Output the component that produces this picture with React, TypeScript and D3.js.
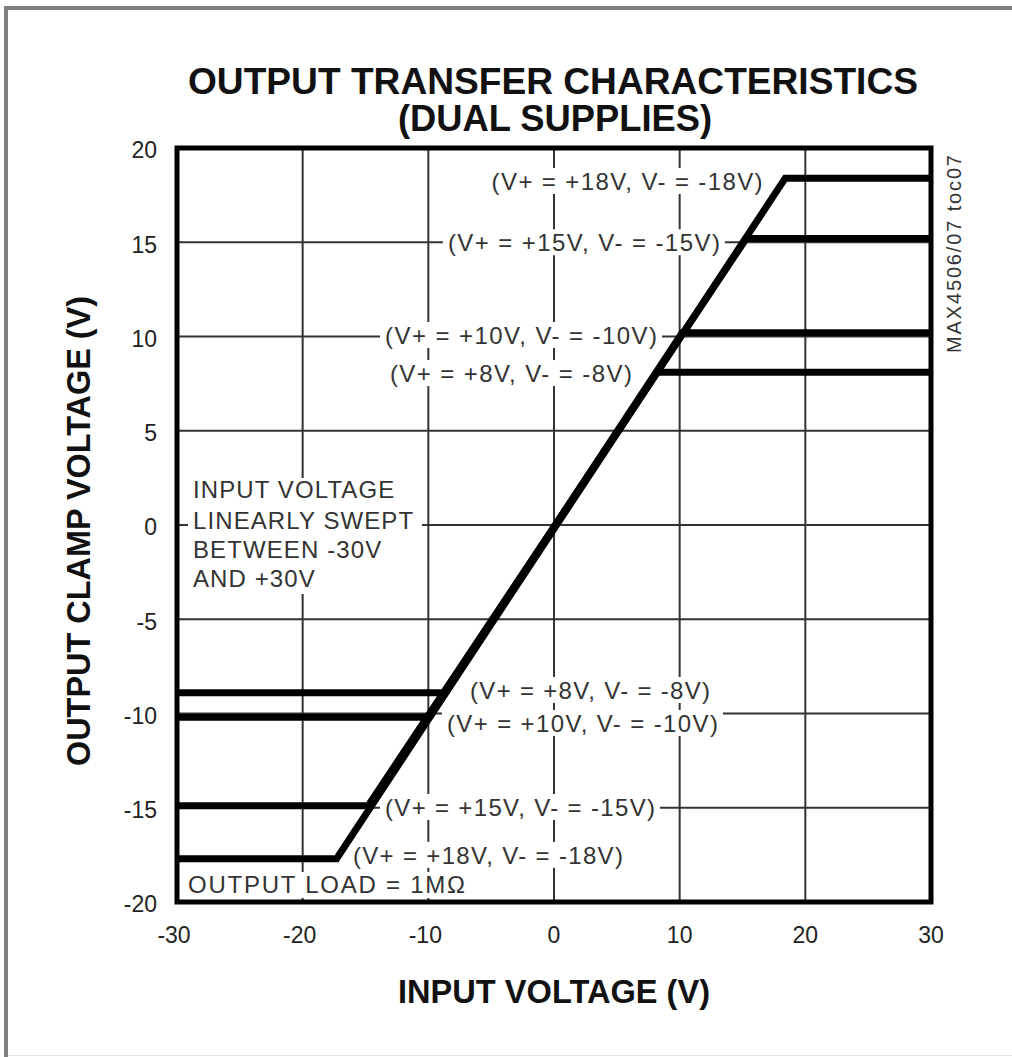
import React from "react";
import * as d3 from "d3";

// ---- data ----
const supplies = [18, 15, 10, 8];
const upperClamp = [18.4, 15.2, 10.2, 8.1];
const upperKneeX = [18.4, 15.3, 10.2, 8.2];
const lowerClamp = [-17.7, -14.9, -10.2, -8.9];
const lowerKneeX = [-17.3, -14.8, -10.0, -8.7];

const xTicks = [-30, -20, -10, 0, 10, 20, 30];
const yTicks = [20, 15, 10, 5, 0, -5, -10, -15, -20];

const supplyText = supplies.map((v) => `(V+ = +${v}V, V- = -${v}V)`);
// upper labels: right end (data x), centre (data y)
const upperLabelX = [16.6, 13.2, 8.2, 6.2];
const upperLabelY = [18.25, 15.0, 10.08, 8.06];
const upperLabelW = [271, 272, 272, 242];
// lower labels: left start (data x), centre (data y)
const lowerLabelX = [-16.0, -13.45, -8.52, -6.68];
const lowerLabelY = [-17.5, -14.96, -10.5, -8.75];
const lowerLabelW = [270, 270, 271, 240];

const noteLines = ["INPUT VOLTAGE", "LINEARLY SWEPT", "BETWEEN -30V", "AND +30V"];
const loadText = "OUTPUT LOAD = 1M\u03A9";

const W = 1012;
const H = 1057;
const X0 = 177, X1 = 931, Y0 = 148, Y1 = 902;
const FONT = "'Liberation Sans', Arial, Helvetica, sans-serif";

export default function App() {
  const x = d3.scaleLinear().domain([-30, 30]).range([X0, X1]);
  const y = d3.scaleLinear().domain([-20, 20]).range([Y1, Y0]);

  const line = d3
    .line<[number, number]>()
    .x((d) => x(d[0]))
    .y((d) => y(d[1]));

  const series = supplies.map((_, i) => [
    [-30, lowerClamp[i]],
    [lowerKneeX[i], lowerClamp[i]],
    [upperKneeX[i], upperClamp[i]],
    [30, upperClamp[i]],
  ] as [number, number][]);

  const labels = [
    ...supplies.map((_, i) => ({
      text: supplyText[i],
      x0: x(upperLabelX[i]) - upperLabelW[i],
      w: upperLabelW[i],
      cy: y(upperLabelY[i]),
    })),
    ...supplies.map((_, i) => ({
      text: supplyText[i],
      x0: x(lowerLabelX[i]),
      w: lowerLabelW[i],
      cy: y(lowerLabelY[i]),
    })),
  ];

  const noteBase = [498, 529, 558, 587];

  return (
    <svg
      width={W}
      height={H}
      style={{ position: "absolute", left: 0, top: 0, background: "#fff" }}
      fontFamily={FONT}
    >
      <rect x={0} y={0} width={W} height={H} fill="#fff" />
      {/* page frame */}
      <rect x={4} y={6} width={W - 4} height={4} fill="#808080" />
      <rect x={4} y={6} width={4} height={H - 6} fill="#808080" />
      <line x1={8} x2={W} y1={1055.5} y2={1055.5} stroke="#e6e6e6" strokeWidth={1} />

      {/* title */}
      <text x={553} y={94} textAnchor="middle" fontSize={37} fontWeight="bold" fill="#111"
        textLength={730} lengthAdjust="spacingAndGlyphs">
        OUTPUT TRANSFER CHARACTERISTICS
      </text>
      <text x={555} y={131} textAnchor="middle" fontSize={37} fontWeight="bold" fill="#111"
        textLength={314} lengthAdjust="spacingAndGlyphs">
        (DUAL SUPPLIES)
      </text>

      {/* grid */}
      {xTicks.slice(1, -1).map((t) => (
        <line key={"gx" + t} x1={x(t)} x2={x(t)} y1={Y0} y2={Y1} stroke="#333" strokeWidth={2} />
      ))}
      {yTicks.slice(1, -1).map((t) => (
        <line key={"gy" + t} x1={X0} x2={X1} y1={y(t)} y2={y(t)} stroke="#333" strokeWidth={2} />
      ))}

      {/* label backgrounds */}
      {labels.map((l, i) => (
        <rect key={"lb" + i} x={l.x0 - 5} y={l.cy - 13} width={l.w + 10} height={26} fill="#fff" />
      ))}
      <rect x={188} y={478} width={234} height={116} fill="#fff" />
      <rect x={184} y={872} width={286} height={26} fill="#fff" />

      {/* labels */}
      {labels.map((l, i) => (
        <text key={"lt" + i} x={l.x0} y={l.cy} dy="0.36em" fontSize={24} fill="#333"
          textLength={l.w} lengthAdjust="spacing">
          {l.text}
        </text>
      ))}
      {noteLines.map((s, i) => (
        <text key={"n" + i} x={193} y={noteBase[i]} fontSize={24} fill="#333" letterSpacing={1.1}>
          {s}
        </text>
      ))}
      <text x={188} y={893} fontSize={24} fill="#333" textLength={277} lengthAdjust="spacing">
        {loadText}
      </text>

      {/* data */}
      {series.map((s, i) => (
        <path key={"s" + i} d={line(s) || ""} fill="none" stroke="#000" strokeWidth={7}
          strokeLinejoin="miter" strokeLinecap="butt" />
      ))}

      {/* plot frame */}
      <rect x={X0} y={Y0} width={X1 - X0} height={Y1 - Y0} fill="none" stroke="#000" strokeWidth={5} />

      {/* tick labels */}
      {xTicks.map((t) => (
        <text key={"tx" + t} x={x(t) - (t < 0 ? 3 : 0)} y={943} textAnchor="middle" fontSize={23} fill="#222">
          {t}
        </text>
      ))}
      {yTicks.map((t) => (
        <text key={"ty" + t} x={157} y={y(t) + 2} dy="0.36em" textAnchor="end" fontSize={23} fill="#222">
          {t}
        </text>
      ))}

      {/* axis titles */}
      <text x={554} y={1003} textAnchor="middle" fontSize={33} fontWeight="bold" fill="#111"
        textLength={312} lengthAdjust="spacingAndGlyphs">
        INPUT VOLTAGE (V)
      </text>
      <text transform="translate(90,531) rotate(-90)" textAnchor="middle" fontSize={33} fontWeight="bold"
        fill="#111" textLength={470} lengthAdjust="spacingAndGlyphs">
        OUTPUT CLAMP VOLTAGE (V)
      </text>

      {/* side code */}
      <text transform="translate(961,254) rotate(-90)" textAnchor="middle" fontSize={20} fill="#333"
        textLength={198} lengthAdjust="spacing">
        MAX4506/07 toc07
      </text>
    </svg>
  );
}
